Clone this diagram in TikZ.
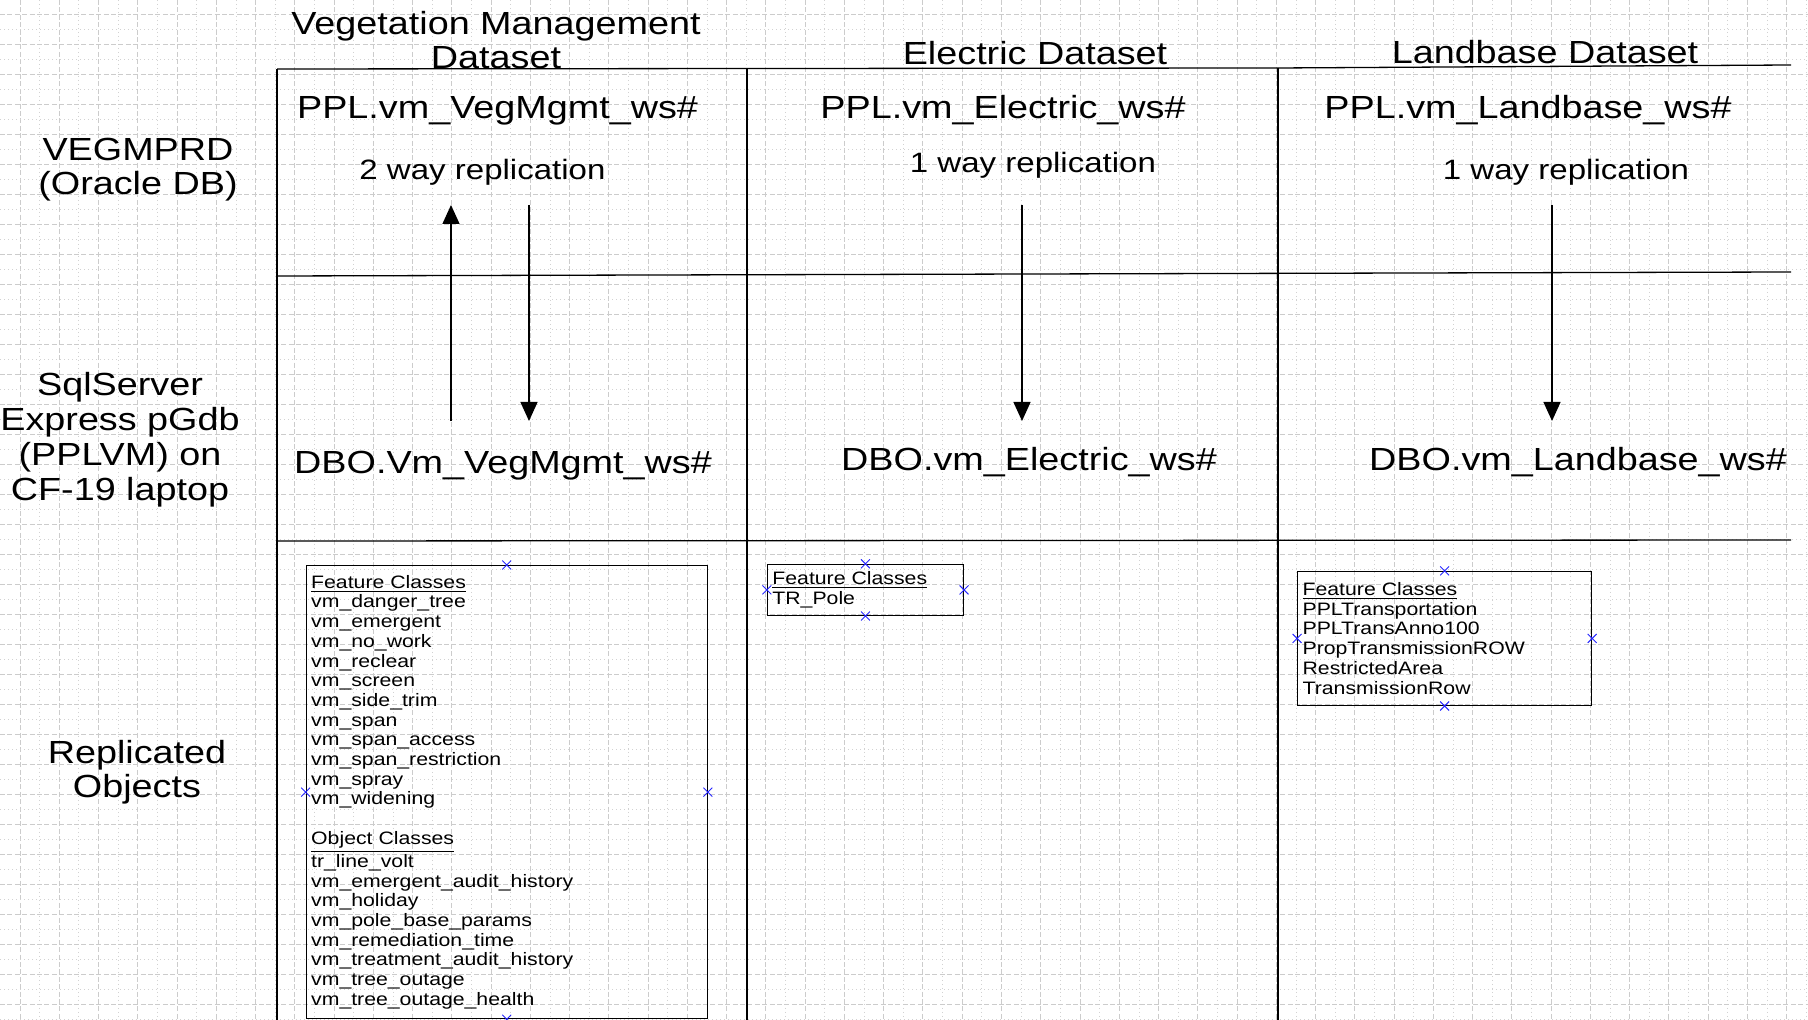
\documentclass[tikz,border=0pt]{standalone}
\usepackage{fontspec}
\setmainfont{Liberation Sans}[FakeStretch=1.18]
\usetikzlibrary{arrows.meta,shapes.misc}

\begin{document}
\begin{tikzpicture}[x=0.5pt, y=-0.5pt,
    gridmaj/.style={gray!40, line width=0.5pt, dash pattern=on 2.5pt off 1.2pt},
    gridmin/.style={gray!35, line width=0.4pt, dash pattern=on 0.4pt off 1.6pt},
    rule/.style={line width=0.65pt},
    bigtxt/.style={font=\fontsize{16}{17}\selectfont, align=center},
    reptxt/.style={font=\fontsize{14}{15}\selectfont},
    objbox/.style={draw, line width=0.6pt, anchor=north west, align=left,
      inner xsep=2.5pt, inner ysep=0pt, font=\fontsize{9}{9.85}\selectfont},
    conpt/.style={cross out, draw=blue!85, line width=0.45pt, minimum size=4pt, inner sep=0pt},
    repl/.style={line width=0.65pt, -{Triangle[length=9.5pt, width=8.5pt]}}]
  \useasboundingbox (0,0) rectangle (1808,1020);

  % background grid
  \foreach \i in {0,...,45} {
    \draw[gridmaj] ({20+39.26*\i},0) -- ({20+39.26*\i},1020);
    \draw[gridmin] ({39.63+39.26*\i},0) -- ({39.63+39.26*\i},1020);
  }
  \foreach \j in {0,...,33} {
    \draw[gridmaj] (0,{14.5+30*\j}) -- (1808,{14.5+30*\j});
    \draw[gridmin] (0,{29.5+30*\j}) -- (1808,{29.5+30*\j});
  }

  % swim lanes
  \draw[rule] (277,69) -- (1278,68) -- (1791,65);
  \draw[rule] (277,276) -- (1791,272);
  \draw[rule] (277,541) -- (1791,540);
  \draw[rule] (277,69) -- (277,1020);
  \draw[rule] (747,69) -- (747,1020);
  \draw[rule] (1278,68) -- (1278,1020);

  % column heads
  \node[bigtxt] (vegtitle) at (496,40) {Vegetation Management\\Dataset};
  \node[bigtxt, anchor=base] (electitle) at (1035,64.5) {Electric Dataset};
  \node[bigtxt, anchor=base] (landtitle) at (1545,63.5) {Landbase Dataset};

  % row heads
  \node[bigtxt] (oraclelbl) at (138,170) {VEGMPRD\\(Oracle DB)};
  \node[bigtxt, font=\fontsize{16}{17.5}\selectfont] (sqllbl) at (120,440)
    {SqlServer\\Express pGdb\\(PPLVM) on\\CF-19 laptop};
  \node[bigtxt] (objlbl) at (137,772) {Replicated\\Objects};

  % geodatabases
  \node[bigtxt, anchor=base] (vegppl) at (497.5,118.5) {PPL.vm\_VegMgmt\_ws\#};
  \node[bigtxt, anchor=base] (elecppl) at (1003,118.5) {PPL.vm\_Electric\_ws\#};
  \node[bigtxt, anchor=base] (landppl) at (1528,118.5) {PPL.vm\_Landbase\_ws\#};
  \node[reptxt, anchor=base] (vegrep) at (482.5,179.5) {2 way replication};
  \node[reptxt, anchor=base] (elecrep) at (1033,172.5) {1 way replication};
  \node[reptxt, anchor=base] (landrep) at (1566,179.5) {1 way replication};
  \node[bigtxt, anchor=base] (vegdbo) at (503,473.5) {DBO.Vm\_VegMgmt\_ws\#};
  \node[bigtxt, anchor=base] (elecdbo) at (1029,470.5) {DBO.vm\_Electric\_ws\#};
  \node[bigtxt, anchor=base] (landdbo) at (1578,470.5) {DBO.vm\_Landbase\_ws\#};

  % replication
  \coordinate (vegup0) at (451,421);
  \coordinate (vegup1) at (451,205);
  \coordinate (vegdn0) at (529,205);
  \coordinate (vegdn1) at (529,421);
  \coordinate (elecdn0) at (1022,205);
  \coordinate (elecdn1) at (1022,421);
  \coordinate (landdn0) at (1552,205);
  \coordinate (landdn1) at (1552,421);
  \draw[repl] (vegup0) -- (vegup1);
  \draw[repl] (vegdn0) -- (vegdn1);
  \draw[repl] (elecdn0) -- (elecdn1);
  \draw[repl] (landdn0) -- (landdn1);

  % replicated objects
  \node[objbox, text width=195.5pt, minimum height=226.5pt] (vegbox) at (305.6,565)
    {\underline{Feature Classes}\\
     vm\_danger\_tree\\
     vm\_emergent\\
     vm\_no\_work\\
     vm\_reclear\\
     vm\_screen\\
     vm\_side\_trim\\
     vm\_span\\
     vm\_span\_access\\
     vm\_span\_restriction\\
     vm\_spray\\
     vm\_widening\\[10pt]
     \underline{Object Classes}\\
     tr\_line\_volt\\
     vm\_emergent\_audit\_history\\
     vm\_holiday\\
     vm\_pole\_base\_params\\
     vm\_remediation\_time\\
     vm\_treatment\_audit\_history\\
     vm\_tree\_outage\\
     vm\_tree\_outage\_health};
  \node[objbox, text width=93pt, minimum height=25.5pt] (elecbox) at (766.8,563.8)
    {\underline{Feature Classes}\\
     TR\_Pole};
  \node[objbox, text width=142pt, minimum height=67pt] (landbox) at (1297,570.8)
    {\underline{Feature Classes}\\
     PPLTransportation\\
     PPLTransAnno100\\
     PropTransmissionROW\\
     RestrictedArea\\
     TransmissionRow};
  \foreach \b in {vegbox,elecbox,landbox}
    \foreach \a in {north,south,east,west}
      \node[conpt] at (\b.\a) {};
\end{tikzpicture}
\end{document}
